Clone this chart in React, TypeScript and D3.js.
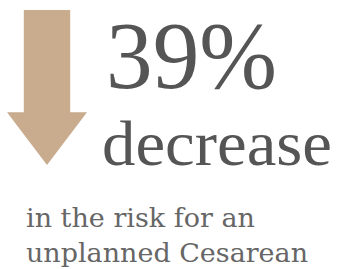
import React, { useRef, useEffect } from "react";
import * as d3 from "d3";

const statValue = ["39%"];
const statLabel = ["decrease"];
const captionLines = ["in the risk for an", "unplanned Cesarean"];
// arrow outline in unit space (0..1)
const arrowShape: [number, number][] = [
  [0.21, 0], [0.79, 0], [0.79, 0.66], [1, 0.66], [0.5, 1], [0, 0.66], [0.21, 0.66],
];

const App: React.FC = () => {
  const svgRef = useRef<SVGSVGElement | null>(null);
  const width = 340;
  const height = 269;

  useEffect(() => {
    if (!svgRef.current) return;
    const svg = d3.select(svgRef.current);
    svg.selectAll("*").remove();

    const x = d3.scaleLinear().domain([0, 1]).range([7, 87]);
    const y = d3.scaleLinear().domain([0, 1]).range([10, 165]);
    const line = d3.line<[number, number]>().x((d) => x(d[0])).y((d) => y(d[1]));

    svg
      .append("path")
      .attr("d", line(arrowShape)! + "Z")
      .attr("fill", "#c9ab8e");

    svg
      .append("text")
      .attr("x", 106)
      .attr("y", 88)
      .attr("font-family", "'Liberation Serif', serif")
      .attr("font-size", 96)
      .attr("fill", "#555")
      .attr("textLength", 171)
      .attr("lengthAdjust", "spacingAndGlyphs")
      .text(statValue[0]);

    svg
      .append("text")
      .attr("x", 102)
      .attr("y", 165)
      .attr("font-family", "'Liberation Serif', serif")
      .attr("font-size", 64)
      .attr("fill", "#555")
      .attr("textLength", 230)
      .attr("lengthAdjust", "spacingAndGlyphs")
      .text(statLabel[0]);

    const captionWidths = [229, 282];
    svg
      .selectAll(".caption")
      .data(captionLines)
      .enter()
      .append("text")
      .attr("class", "caption")
      .attr("x", 26)
      .attr("y", (_d, i) => 227 + i * 35)
      .attr("font-family", "'DejaVu Serif', serif")
      .attr("font-size", 26)
      .attr("fill", "#666")
      .attr("textLength", (_d, i) => captionWidths[i])
      .attr("lengthAdjust", "spacingAndGlyphs")
      .text((d) => d);
  }, []);

  return (
    <svg
      ref={svgRef}
      width={width}
      height={height}
      style={{ position: "absolute", left: 0, top: 0, background: "#fff" }}
    />
  );
};

export default App;
